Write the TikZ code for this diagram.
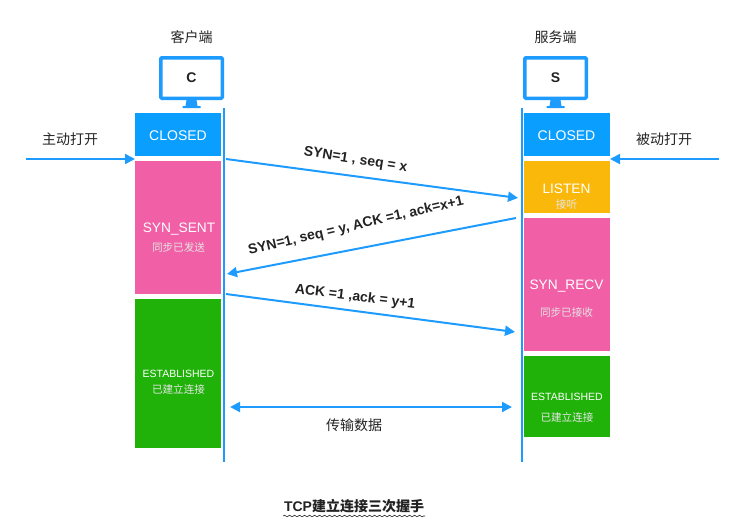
\documentclass[tikz,border=0pt]{standalone}
\usepackage{fontspec}
\setmainfont{Liberation Sans}
\newfontfamily\cjk{Noto Sans CJK SC}
\usetikzlibrary{arrows.meta,decorations.pathmorphing}
\definecolor{lineblue}{HTML}{1E9BFF}
\definecolor{boxblue}{HTML}{0A9EFF}
\definecolor{boxpink}{HTML}{F15FA6}
\definecolor{boxorange}{HTML}{FAB90A}
\definecolor{boxgreen}{HTML}{21B20A}
\definecolor{inkgray}{HTML}{222222}
\newcommand{\fs}[1]{\fontsize{#1}{#1}\selectfont}
\begin{document}
\begin{tikzpicture}[x=1pt,y=-1pt]
        \tikzstyle{state}=[inner sep=0pt,minimum width=86pt]
        \tikzstyle{big}=[inner sep=0pt,text=white,font=\fs{13.7}]
        \tikzstyle{small}=[inner sep=0pt,text=white,font=\fs{10.5}]
        \tikzstyle{zhsmall}=[inner sep=0pt,text=white!90!black,font=\fs{10.6}\cjk]
        \tikzstyle{screen}=[draw=lineblue,line width=3.5pt,fill=white,rounded corners=1pt,minimum width=61.5pt,minimum height=40.5pt,inner sep=0pt,text=inkgray,font=\fs{14}\bfseries]
        \tikzstyle{life}=[draw=lineblue,line width=2pt]
        \tikzstyle{msg}=[draw=lineblue,line width=2pt,-{Triangle[length=10pt,width=10pt]}]
        \tikzstyle{open}=[text=inkgray,font=\fs{14}\cjk,inner sep=0pt]
        \tikzstyle{msglabel}=[text=inkgray,font=\fs{14}\bfseries,inner sep=0pt]
        \useasboundingbox (0,0) rectangle (754,528);
       \begin{scope}
        % client side
        \node [state,fill=boxblue,minimum height=43pt] (closedc) at (178,134.5) {};
        \node [state,fill=boxpink,minimum height=133pt] (sent) at (178,227.5) {};
        \node [state,fill=boxgreen,minimum height=149pt] (estc) at (178,373.5) {};
        \node [big,font=\fs{14}] (tclosedc) at (178,135.5) {CLOSED};
        \node [big] (tsent) at (179,229.5) {SYN\_SENT};
        \node [zhsmall] (zsent) at (178.5,247.5) {同步已发送};
        \node [small] (testc) at (178.5,374) {ESTABLISHED};
        \node [zhsmall] (zestc) at (178.5,389) {已建立连接};

        % server side
        \node [state,fill=boxblue,minimum height=43pt] (closeds) at (566.5,134.5) {};
        \node [state,fill=boxorange,minimum height=52pt] (listen) at (566.5,187) {};
        \node [state,fill=boxpink,minimum height=133pt] (recv) at (566.5,284.5) {};
        \node [state,fill=boxgreen,minimum height=81pt] (ests) at (566.5,396.5) {};
        \node [big,font=\fs{14}] (tcloseds) at (566.5,135.5) {CLOSED};
        \node [big] (tlisten) at (566.5,188.5) {LISTEN};
        \node [zhsmall] (zlisten) at (566.5,204) {接听};
        \node [big] (trecv) at (566.5,286) {SYN\_RECV};
        \node [zhsmall] (zrecv) at (566.5,312) {同步已接收};
        \node [small] (tests) at (567,397) {ESTABLISHED};
        \node [zhsmall] (zests) at (567,417) {已建立连接};

        % monitors
        \foreach \nm/\tx/\hd/\cx in {c/C/客户端/191.5,s/S/服务端/555.5}{
          \fill[lineblue] (\cx-5,100) -- (\cx+5,100) -- (\cx+6,106) -- (\cx+9,106) -- (\cx+9,108) -- (\cx-9,108) -- (\cx-9,106) -- (\cx-6,106) -- cycle;
          \node [screen] (screen\nm) at (\cx,78) {\tx};
          \node [open] (head\nm) at (\cx,37) {\hd};
        }

        % lifelines
        \coordinate (ctop) at (223.5,108);
        \coordinate (cbot) at (223.5,462);
        \coordinate (stop) at (522,108);
        \coordinate (sbot) at (522,462);
        \path[life] (ctop) -- (cbot);
        \path[life] (stop) -- (sbot);

        % opening arrows
        \coordinate (ain) at (26,159);
        \coordinate (aend) at (135,159);
        \coordinate (pin) at (719,159);
        \coordinate (pend) at (610,159);
        \path[msg] (ain) -- (aend);
        \path[msg] (pin) -- (pend);
        \node [open] (aopen) at (70,139) {主动打开};
        \node [open] (popen) at (664,139) {被动打开};

        % handshake
        \coordinate (m1a) at (226,159);
        \coordinate (m1b) at (518,198);
        \coordinate (m2a) at (516,218);
        \coordinate (m2b) at (227,274);
        \coordinate (m3a) at (226,294);
        \coordinate (m3b) at (515,332);
        \coordinate (m4a) at (230,407);
        \coordinate (m4b) at (512,407);
        \path[msg] (m1a) -- (m1b);
        \path[msg] (m2a) -- (m2b);
        \path[msg] (m3a) -- (m3b);
        \path[msg,{Triangle[length=10pt,width=10pt]}-{Triangle[length=10pt,width=10pt]}] (m4a) -- (m4b);
        \node [msglabel,rotate=-9] (syn) at (355.5,160) {SYN=1 , seq = x};
        \node [msglabel,rotate=13] (synack) at (356,226) {SYN=1, seq = y, ACK =1, ack=x+1};
        \node [msglabel,rotate=-7] (ack) at (355,297) {ACK =1 ,ack = y+1};
        \node [open] (data) at (354,425) {传输数据};

        % caption
        \node [text=inkgray,font=\fs{14}\bfseries,inner sep=0pt] (title) at (354,506) {TCP{\cjk 建立连接三次握手}};
        \coordinate (wl) at (283,516);
        \coordinate (wr) at (425,516);
        \draw [inkgray,line width=0.6pt,decorate,decoration={snake,amplitude=0.8pt,segment length=5pt}] (wl) -- (wr);
       \end{scope}
\end{tikzpicture}
\end{document}
